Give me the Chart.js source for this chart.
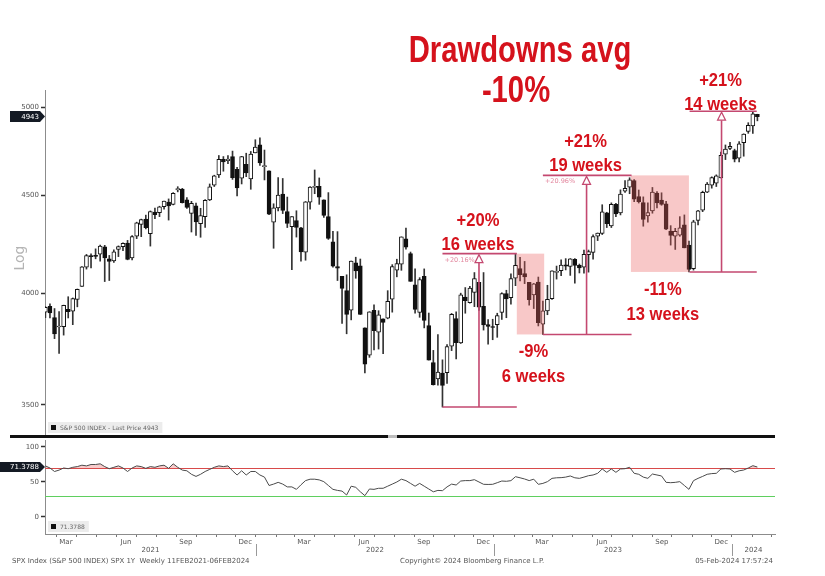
<!DOCTYPE html>
<html lang="en">
<head>
<meta charset="UTF-8">
<title>SPX weekly - drawdowns</title>
<script src="https://cdn.jsdelivr.net/npm/chart.js"></script>
<style>
  html, body { margin: 0; padding: 0; background: #fff; }
  #wrap { position: relative; width: 825px; height: 576px; }
  canvas { position: absolute; left: 0; top: 0; }
</style>
</head>
<body>
<div id="wrap">
  <canvas id="priceChart" width="825" height="576"></canvas>
  <canvas id="rsiChart" width="825" height="576"></canvas>
</div>
<script>
// weekly bars, first bar dated 12 Feb 2021
const firstWeek = '2021-02-12';
const opens = [
  3911,3939,3886,3842,3844,3924,3916,3971,4034,4127,
  4181,4185,4192,4229,4169,4158,4216,4230,4248,4174,
  4284,4344,4372,4296,4409,4406,4437,4462,4450,4528,
  4532,4474,4402,4442,4348,4385,4474,4553,4610,4697,
  4689,4712,4640,4592,4669,4587,4733,4778,4655,4632,
  4356,4431,4505,4412,4332,4364,4327,4202,4462,4541,
  4547,4474,4385,4255,4130,4082,4013,3920,4149,4134,
  3838,3715,3920,3818,3880,3883,3972,4113,4142,4270,
  4195,4041,3910,4083,3849,3682,3610,3636,3638,3755,
  3881,3770,3982,3956,4005,4053,3939,3853,3843,3853,
  3910,3999,3979,4073,4120,4096,4053,3993,4055,3855,
  3917,3975,4102,4110,4139,4131,4167,4136,4127,4190,
  4201,4283,4298,4405,4337,4450,4404,4521,4543,4578,
  4492,4459,4389,4415,4511,4473,4453,4310,4284,4289,
  4342,4238,4120,4365,4419,4515,4554,4564,4593,4725,
  4758,4746,4703,4791,4856,4888,4957
];
const highs = [
  3937,3950,3928,3914,3944,3984,3978,4021,4130,4191,
  4194,4219,4238,4237,4186,4214,4234,4249,4262,4287,
  4356,4372,4393,4415,4430,4440,4468,4479,4513,4545,
  4536,4486,4466,4457,4429,4475,4560,4608,4718,4712,
  4717,4743,4652,4713,4731,4741,4808,4819,4749,4632,
  4453,4595,4590,4489,4385,4416,4329,4465,4546,4637,
  4593,4474,4513,4308,4307,4082,4090,4158,4177,4168,
  3838,3913,3946,3918,3880,4013,4140,4167,4280,4325,
  4203,4119,4076,4119,3907,3736,3807,3694,3762,3905,
  3912,4001,4028,4034,4101,4053,4101,3877,3878,3906,
  4003,4015,4095,4195,4176,4156,4053,4048,4079,3963,
  4039,4110,4133,4164,4170,4170,4170,4143,4213,4213,
  4290,4300,4448,4408,4458,4456,4528,4578,4594,4584,
  4527,4490,4458,4541,4519,4512,4466,4338,4324,4385,
  4394,4259,4366,4418,4521,4568,4599,4610,4738,4778,
  4793,4754,4798,4842,4907,4975,4957
];
const lows = [
  3885,3884,3789,3723,3805,3884,3853,3936,4034,4118,
  4124,4169,4157,4057,4062,4151,4180,4210,4164,4164,
  4271,4281,4321,4233,4374,4385,4425,4367,4447,4517,
  4457,4428,4305,4288,4278,4329,4470,4546,4595,4630,
  4672,4585,4495,4560,4600,4531,4733,4662,4582,4395,
  4222,4415,4401,4328,4115,4279,4157,4162,4424,4507,
  4450,4381,4267,4128,4062,3859,3811,3875,4073,3900,
  3637,3705,3738,3742,3721,3880,3911,4080,4112,4218,
  4058,3906,3887,3838,3693,3584,3584,3491,3591,3735,
  3698,3767,3906,3953,3937,3919,3828,3764,3784,3795,
  3877,3885,3949,4037,4060,4047,3944,3928,3847,3808,
  3899,3971,4069,4086,4114,4087,4049,4099,4098,4103,
  4167,4261,4292,4328,4328,4385,4394,4514,4507,4464,
  4457,4335,4356,4403,4431,4445,4317,4238,4216,4283,
  4224,4104,4113,4342,4411,4513,4537,4546,4593,4695,
  4751,4682,4682,4714,4845,4845,4918
];
const closes = [
  3934,3907,3811,3842,3943,3913,3975,4020,4129,4185,
  4180,4181,4233,4174,4156,4204,4230,4247,4166,4281,
  4352,4370,4327,4412,4395,4437,4468,4442,4509,4535,
  4459,4433,4455,4357,4391,4471,4545,4605,4697,4682,
  4698,4595,4538,4712,4620,4726,4766,4677,4662,4398,
  4432,4500,4418,4349,4385,4329,4204,4463,4543,4546,
  4488,4392,4272,4132,4123,4024,3901,4158,4109,3901,
  3675,3912,3825,3899,3863,3962,4130,4145,4280,4228,
  4058,3924,4067,3873,3693,3586,3640,3583,3753,3901,
  3771,3993,3965,4026,4072,3934,3852,3845,3840,3895,
  3999,3973,4071,4136,4090,4079,3970,4046,3862,3917,
  3971,4109,4105,4138,4133,4169,4136,4124,4192,4205,
  4282,4299,4410,4348,4450,4399,4505,4536,4582,4478,
  4464,4370,4406,4516,4457,4450,4320,4288,4308,4327,
  4224,4117,4358,4415,4514,4559,4595,4604,4719,4755,
  4770,4697,4784,4840,4891,4959,4943
];
// 14 week RSI
const rsi = [
  73,70,65,67,70,69,71,72,74,73,
  75,75,76,72,69,71,73,70,65,70,
  73,72,69.5,72,71,73,74,69.5,76,71,
  67,66,61,58,61,65,68,71,73,72,
  73,66,60,66,60,65,65,60,57,45,
  47,49.5,47,43,43,39.5,46,52,54,54,
  53,50.5,45,39.5,38,37,31.4,44,42.4,36,
  30.5,40,39.5,41,41,44,47,50,54,52,
  48,44,48,44,40,36,38,37.6,43,47,
  45.7,51.4,52,52,53.3,50,46.7,46.5,46.7,49,
  51.4,51,51.9,57.6,56,54.3,52,54,46.7,48,
  50.5,55.2,56,56.2,57,58.6,56,55.2,57,59,
  60,62.4,68.6,63.8,68.6,63.8,68.6,69,71,62.4,
  61,57,55.2,61.4,60,58.6,49.5,49,49.5,50.5,
  45,39.5,51.9,55.2,58,61,62,62.4,68.6,69,
  68.6,63.8,66,67.1,70,73.3,71.3788
];

const priceTicks = [3500, 4000, 4500, 5000];
const rsiTicks = [0, 50, 100];
const monthLabels = ['', '', 'Mar', '', '', 'Jun', '', '', 'Sep', '', '', 'Dec'];
const yearLabels = ['2021', '2022', '2023', '2024'];

// rallies and drawdowns marked on the chart
const rallyFrom = ['2022-10-14', '2023-03-17', '2023-10-28'];
const rallyTo = ['2023-02-05', '2023-07-31', '2024-02-08'];
const rallyMark = ['2022-12-09', '2023-05-23', '2023-12-16'];
const rallyLow = [3491, 3808, 4104];
const rallyHigh = [4195, 4607, 4975];
const rallyPct = ['+20%', '+21%', '+21%'];
const rallyWeeks = ['16 weeks', '19 weeks', '14 weeks'];
const rallyExact = ['+20.16%', '+20.96%', ''];
const ddFrom = ['2023-02-05', '2023-07-30'];
const ddTo = ['2023-03-19', '2023-10-27'];
const ddHigh = [4195, 4607];
const ddLow = [3808, 4104];
const ddPct = ['-9%', '-11%'];
const ddWeeks = ['6 weeks', '13 weeks'];

const T0 = Date.UTC(2021, 0, 1);
function dayOf(s) { return (Date.parse(s + 'T00:00:00Z') - T0) / 864e5; }

const xMin = 41.4, xMax = 1161;
const start = dayOf(firstWeek);
const days = closes.map((_, i) => start + 7 * i);

const wickData = days.map((d, i) => ({ x: d, y: [lows[i], highs[i]] }));
const bodyData = days.map((d, i) => ({ x: d, y: [opens[i], closes[i]] }));
const bodyFill = closes.map((c, i) => c >= opens[i] ? '#ffffff' : '#111111');
const rsiData = days.map((d, i) => ({ x: d, y: rsi[i] }));

const RED = '#d5121c';
const LINE = 'rgb(196,72,112)';
const AXIS_FONT = { family: 'DejaVu Sans', size: 7 };

function narrowText(ctx, txt, x, y, size, sx, color) {
  ctx.save();
  ctx.font = 'bold ' + size + 'px "Liberation Sans", Arial, sans-serif';
  ctx.fillStyle = color;
  ctx.textAlign = 'center';
  ctx.textBaseline = 'alphabetic';
  ctx.translate(x, y);
  ctx.scale(sx, 1);
  ctx.fillText(txt, 0, 0);
  ctx.restore();
}

function tag(ctx, txt, x0, x1, yc, h) {
  ctx.save();
  ctx.fillStyle = '#141a24';
  ctx.beginPath();
  ctx.moveTo(x0, yc - h / 2);
  ctx.lineTo(x1 - 5, yc - h / 2);
  ctx.lineTo(x1, yc);
  ctx.lineTo(x1 - 5, yc + h / 2);
  ctx.lineTo(x0, yc + h / 2);
  ctx.closePath();
  ctx.fill();
  ctx.fillStyle = '#fff';
  ctx.font = '7px "DejaVu Sans"';
  ctx.textAlign = 'right';
  ctx.textBaseline = 'middle';
  ctx.fillText(txt, x1 - 6, yc + 0.5);
  ctx.restore();
}

function legendBox(ctx, txt, x, y) {
  ctx.save();
  ctx.font = '6px "DejaVu Sans"';
  const w = ctx.measureText(txt).width + 16;
  ctx.fillStyle = '#ececec';
  ctx.fillRect(x, y, w, 11);
  ctx.fillStyle = '#111';
  ctx.fillRect(x + 3, y + 3, 5, 5);
  ctx.fillStyle = '#666';
  ctx.textBaseline = 'middle';
  ctx.fillText(txt, x + 12, y + 6);
  ctx.restore();
}

const priceDecor = {
  id: 'priceDecor',
  afterDatasetsDraw(chart) {
    const { ctx, scales: { x, y } } = chart;
    ctx.save();
    // drawdown boxes
    ddFrom.forEach((f, i) => {
      const x0 = x.getPixelForValue(dayOf(f)), x1 = x.getPixelForValue(dayOf(ddTo[i]));
      const y0 = y.getPixelForValue(ddHigh[i]), y1 = y.getPixelForValue(ddLow[i]);
      ctx.fillStyle = 'rgba(235,94,94,0.34)';
      ctx.fillRect(x0, y0, x1 - x0, y1 - y0);
      const cx = (x0 + x1) / 2 + 3;
      narrowText(ctx, ddPct[i], cx, y1 + 23, 18, 0.92, RED);
      narrowText(ctx, ddWeeks[i], cx, y1 + 48, 18, 0.92, RED);
    });
    // rally brackets
    rallyFrom.forEach((f, i) => {
      const x0 = x.getPixelForValue(dayOf(f)), x1 = x.getPixelForValue(dayOf(rallyTo[i]));
      const xm = x.getPixelForValue(dayOf(rallyMark[i]));
      const yl = y.getPixelForValue(rallyLow[i]), yh = y.getPixelForValue(rallyHigh[i]);
      ctx.strokeStyle = LINE;
      ctx.lineWidth = 1.6;
      ctx.beginPath();
      ctx.moveTo(x0, yl); ctx.lineTo(x1, yl);
      ctx.moveTo(x0, yh); ctx.lineTo(x1, yh);
      ctx.moveTo(xm, yl); ctx.lineTo(xm, yh + 9);
      ctx.stroke();
      ctx.fillStyle = '#fff';
      ctx.lineWidth = 1.2;
      ctx.beginPath();
      ctx.moveTo(xm, yh + 1);
      ctx.lineTo(xm - 4, yh + 9);
      ctx.lineTo(xm + 4, yh + 9);
      ctx.closePath();
      ctx.fill();
      ctx.stroke();
      if (rallyExact[i]) {
        ctx.fillStyle = '#e3889f';
        ctx.font = '6.5px "DejaVu Sans"';
        ctx.textAlign = 'left';
        ctx.textBaseline = 'alphabetic';
        ctx.fillText(rallyExact[i], x0 + 2, yh + 8);
      }
      const lift = i === 2 ? 3 : 0;
      narrowText(ctx, rallyPct[i], xm - 1, yh - 28 + lift, 18, 0.92, RED);
      narrowText(ctx, rallyWeeks[i], xm - 1, yh - 4 + lift, 18, 0.92, RED);
    });
    ctx.restore();
  },
  afterDraw(chart) {
    const { ctx, scales: { y } } = chart;
    ctx.save();
    // title
    narrowText(ctx, 'Drawdowns avg', 520, 62, 37, 0.79, RED);
    narrowText(ctx, '-10%', 516, 102, 37, 0.79, RED);
    // "Log" axis title
    ctx.translate(20, 258);
    ctx.rotate(-Math.PI / 2);
    ctx.fillStyle = '#b4b4b4';
    ctx.font = '14px "DejaVu Sans"';
    ctx.textAlign = 'center';
    ctx.textBaseline = 'middle';
    ctx.fillText('Log', 0, 0);
    ctx.restore();
    const last = closes[closes.length - 1];
    tag(ctx, String(last), 10, 45, y.getPixelForValue(last), 11);
    legendBox(ctx, 'S&P 500 INDEX - Last Price ' + last, 48, 422);
    // panel separator
    ctx.fillStyle = '#111';
    ctx.fillRect(10, 435, 765, 3);
    ctx.fillStyle = '#bdbdbd';
    ctx.fillRect(388, 435, 9, 3);
  }
};

new Chart(document.getElementById('priceChart'), {
  data: {
    datasets: [
      { type: 'bar', data: wickData, backgroundColor: '#333', borderWidth: 0,
        barThickness: 1, grouped: false, order: 2 },
      { type: 'bar', data: bodyData, backgroundColor: bodyFill, borderColor: '#111',
        borderWidth: 1, borderSkipped: false, barThickness: 4, minBarLength: 1,
        grouped: false, order: 1 }
    ]
  },
  options: {
    responsive: false, animation: false, devicePixelRatio: 1,
    layout: { padding: { top: 90, bottom: 140, left: 0, right: 50 } },
    plugins: { legend: { display: false }, tooltip: { enabled: false } },
    scales: {
      x: { type: 'linear', min: xMin, max: xMax, offset: false, display: false },
      y: {
        type: 'logarithmic', min: 3372, max: 5103, position: 'left',
        afterFit: s => { s.width = 45; },
        afterBuildTicks: s => { s.ticks = priceTicks.map(v => ({ value: v })); },
        ticks: { callback: v => String(v), color: '#555', font: AXIS_FONT, padding: 2 },
        grid: { drawOnChartArea: false, tickLength: 4, tickColor: '#333', tickWidth: 1.5 },
        border: { color: '#8c8c8c' }
      }
    }
  },
  plugins: [priceDecor]
});

// x axis ticks: month starts (marks) and mid-quarter month names (labels)
const axisTicks = [];
for (let yr = 2021; yr <= 2024; yr++) {
  for (let m = 0; m < 12; m++) {
    const d = (Date.UTC(yr, m, 1) - T0) / 864e5;
    if (d >= xMin && d <= xMax) axisTicks.push({ v: d, label: '' });
    const mid = (Date.UTC(yr, m, 15) - T0) / 864e5 + 0.5;
    if (monthLabels[m] && mid >= xMin && mid <= xMax) axisTicks.push({ v: mid, label: monthLabels[m] });
  }
}
axisTicks.sort((a, b) => a.v - b.v);

const rsiDecor = {
  id: 'rsiDecor',
  beforeDatasetsDraw(chart) {
    const { ctx, chartArea: a, scales: { y } } = chart;
    ctx.save();
    ctx.lineWidth = 1;
    ctx.strokeStyle = '#d84a4a';
    ctx.beginPath();
    ctx.moveTo(a.left, Math.round(y.getPixelForValue(70)) + 0.5);
    ctx.lineTo(a.right, Math.round(y.getPixelForValue(70)) + 0.5);
    ctx.stroke();
    ctx.strokeStyle = '#5fcf5f';
    ctx.beginPath();
    ctx.moveTo(a.left, Math.round(y.getPixelForValue(30)) + 0.5);
    ctx.lineTo(a.right, Math.round(y.getPixelForValue(30)) + 0.5);
    ctx.stroke();
    ctx.restore();
  },
  afterDraw(chart) {
    const { ctx, scales: { x, y } } = chart;
    ctx.save();
    ctx.font = '7px "DejaVu Sans"';
    ctx.fillStyle = '#555';
    ctx.textAlign = 'center';
    ctx.textBaseline = 'middle';
    yearLabels.forEach(yl => {
      const y0 = Number(yl);
      const a = Math.max(xMin, (Date.UTC(y0, 0, 1) - T0) / 864e5);
      const b = Math.min(xMax, (Date.UTC(y0 + 1, 0, 1) - T0) / 864e5);
      ctx.fillText(yl, x.getPixelForValue((a + b) / 2), 550);
      if (y0 > 2021) {
        const px = Math.round(x.getPixelForValue(a)) + 0.5;
        ctx.strokeStyle = '#999';
        ctx.beginPath();
        ctx.moveTo(px, 544); ctx.lineTo(px, 556);
        ctx.stroke();
      }
    });
    ctx.textBaseline = 'middle';
    ctx.textAlign = 'left';
    ctx.fillText('SPX Index (S&P 500 INDEX) SPX 1Y  Weekly 11FEB2021-06FEB2024', 12, 561);
    ctx.fillText('Copyright\u00a9 2024 Bloomberg Finance L.P.', 400, 561);
    ctx.textAlign = 'right';
    ctx.fillText('05-Feb-2024 17:57:24', 773, 561);
    ctx.restore();
    const lastR = rsi[rsi.length - 1];
    tag(ctx, String(lastR), 0, 45, y.getPixelForValue(lastR), 10);
    legendBox(ctx, String(lastR), 48, 521);
  }
};

new Chart(document.getElementById('rsiChart'), {
  type: 'line',
  data: {
    datasets: [{
      data: rsiData, borderColor: '#4a4a4a', borderWidth: 1, pointRadius: 0, tension: 0,
      fill: { target: { value: 70 }, above: 'rgba(232,110,110,0.35)', below: 'rgba(0,0,0,0)' }
    }]
  },
  options: {
    responsive: false, animation: false, devicePixelRatio: 1,
    layout: { padding: { top: 440, bottom: 0, left: 0, right: 50 } },
    plugins: { legend: { display: false }, tooltip: { enabled: false } },
    scales: {
      x: {
        type: 'linear', min: xMin, max: xMax, offset: false,
        afterFit: s => { s.height = 42; },
        afterBuildTicks: s => { s.ticks = axisTicks.map(t => ({ value: t.v })); },
        ticks: { autoSkip: false, maxRotation: 0, padding: 1, color: '#555', font: AXIS_FONT,
                 callback: (v, i) => axisTicks[i].label },
        grid: { drawOnChartArea: false, tickLength: 3,
                tickColor: c => (c.tick && c.tick.label) ? 'rgba(0,0,0,0)' : '#777' },
        border: { color: '#8c8c8c' }
      },
      y: {
        min: -24.3, max: 110,
        afterFit: s => { s.width = 45; },
        afterBuildTicks: s => { s.ticks = rsiTicks.map(v => ({ value: v })); },
        ticks: { callback: v => String(v), color: '#555', font: AXIS_FONT, padding: 2 },
        grid: { drawOnChartArea: false, tickLength: 4, tickColor: '#333', tickWidth: 1.5 },
        border: { color: '#8c8c8c' }
      }
    }
  },
  plugins: [rsiDecor]
});
</script>
</body>
</html>
